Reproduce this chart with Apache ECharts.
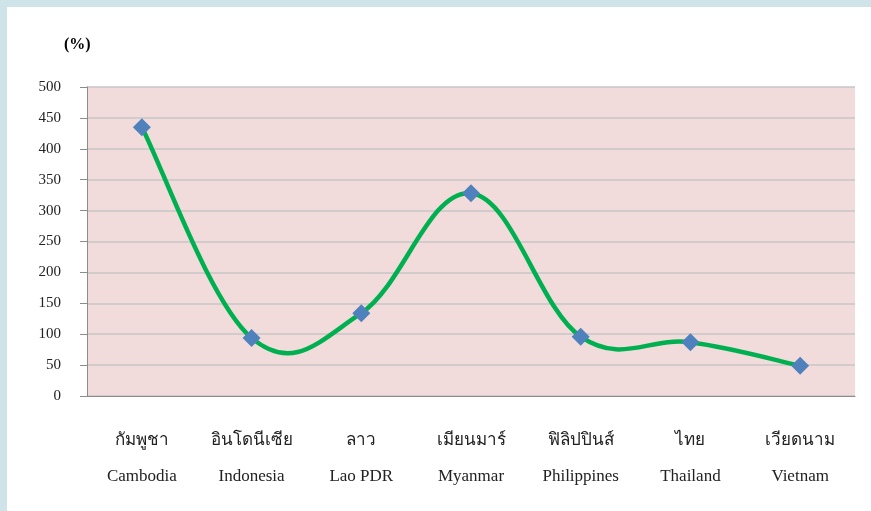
<!DOCTYPE html>
<html>
<head>
<meta charset="utf-8">
<script src="https://cdn.jsdelivr.net/npm/echarts@6/dist/echarts.min.js"></script>
<style>
  html, body { margin: 0; padding: 0; background: #cfe4e9; }
  #frame { position: absolute; left: 7px; top: 7px; width: 864px; height: 504px; background: #ffffff; }
  #chart { position: absolute; left: -7px; top: -7px; width: 871px; height: 511px; }
</style>
</head>
<body>
<div id="frame"><div id="chart"></div></div>
<script>
// Country names (Thai / English) and the percentage for each
const thaiNames = ['กัมพูชา', 'อินโดนีเซีย', 'ลาว', 'เมียนมาร์', 'ฟิลิปปินส์', 'ไทย', 'เวียดนาม'];
const englishNames = ['Cambodia', 'Indonesia', 'Lao PDR', 'Myanmar', 'Philippines', 'Thailand', 'Vietnam'];
const percentValues = [435, 94, 134, 328, 96, 87, 49];
const yTicks = { min: 0, max: 500, step: 50 };

const categories = thaiNames.map((t, i) => t + '\n' + englishNames[i]);
const fontFamily = '"Liberation Serif", "Times New Roman", serif';
const TENSION = 0.19;

// Cardinal-spline segment from point i to i+1, in pixel space from the axes
function renderSegment(params, api) {
  const i = params.dataIndex;
  const n = percentValues.length;
  if (i >= n - 1) return null;
  const pt = j => api.coord([Math.max(0, Math.min(n - 1, j)), percentValues[Math.max(0, Math.min(n - 1, j))]]);
  const p0 = pt(i - 1), p1 = pt(i), p2 = pt(i + 1), p3 = pt(i + 2);
  const cp1 = [p1[0] + (p2[0] - p0[0]) * TENSION, p1[1] + (p2[1] - p0[1]) * TENSION];
  const cp2 = [p2[0] - (p3[0] - p1[0]) * TENSION, p2[1] - (p3[1] - p1[1]) * TENSION];
  return {
    type: 'bezierCurve',
    shape: { x1: p1[0], y1: p1[1], cpx1: cp1[0], cpy1: cp1[1], cpx2: cp2[0], cpy2: cp2[1], x2: p2[0], y2: p2[1] },
    style: { stroke: '#00b050', lineWidth: 4.5, fill: null, lineCap: 'round' }
  };
}

const chart = echarts.init(document.getElementById('chart'));
chart.setOption({
  animation: false,
  textStyle: { fontFamily: fontFamily },
  grid: { left: 87, right: 16, top: 87, bottom: 115, show: true, backgroundColor: '#f2dcdb', borderWidth: 0 },
  graphic: [{
    type: 'text', left: 64, top: 37,
    style: { text: '(%)', font: 'bold 16px ' + fontFamily, fill: '#000' }
  }],
  xAxis: {
    type: 'category',
    data: categories,
    boundaryGap: true,
    axisLine: { lineStyle: { color: '#8c8c8c', width: 1 } },
    axisTick: { length: 8, lineStyle: { color: '#8c8c8c' } },
    axisLabel: {
      margin: 27,
      interval: 0,
      formatter: function (v) {
        const parts = v.split('\n');
        return '{th|' + parts[0] + '}\n{en|' + parts[1] + '}';
      },
      rich: {
        th: { fontSize: 17, color: '#222', fontFamily: fontFamily, lineHeight: 36 },
        en: { fontSize: 17, color: '#222', fontFamily: fontFamily, lineHeight: 36 }
      }
    }
  },
  yAxis: {
    type: 'value',
    min: yTicks.min, max: yTicks.max, interval: yTicks.step,
    axisLine: { show: true, lineStyle: { color: '#8c8c8c', width: 1 } },
    axisTick: { show: true, length: 7, lineStyle: { color: '#8c8c8c' } },
    axisLabel: { margin: 26, fontSize: 15, color: '#222', fontFamily: fontFamily },
    splitLine: { lineStyle: { color: '#c6c6c6', width: 1.5 } }
  },
  series: [{
    type: 'custom',
    data: percentValues,
    renderItem: renderSegment,
    z: 2,
    silent: true
  }, {
    type: 'line',
    data: percentValues,
    symbol: 'diamond',
    symbolSize: 18,
    itemStyle: { color: '#4f81bd' },
    lineStyle: { width: 0, opacity: 0 },
    z: 3
  }]
});
</script>
</body>
</html>
